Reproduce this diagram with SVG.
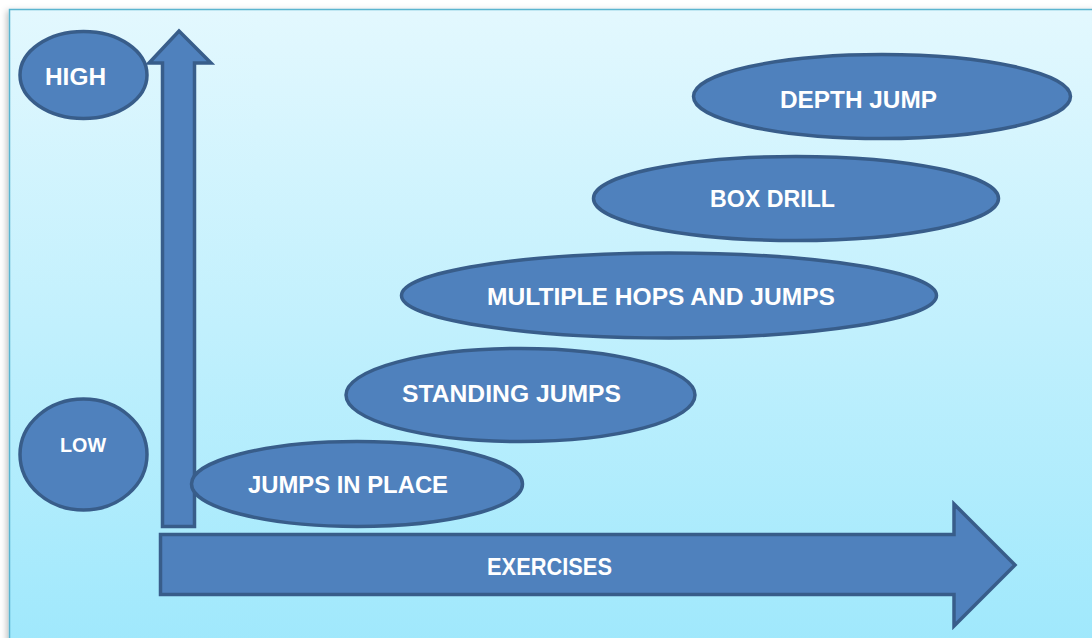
<svg xmlns="http://www.w3.org/2000/svg" width="1092" height="638" viewBox="0 0 1092 638">
  <defs>
    <linearGradient id="bg" x1="0" y1="0" x2="0" y2="1">
      <stop offset="0" stop-color="#e3f8fe"/>
      <stop offset="1" stop-color="#9fe8fc"/>
    </linearGradient>
    <filter id="sh" x="-5%" y="-5%" width="110%" height="110%">
      <feDropShadow dx="-2" dy="2" stdDeviation="3" flood-color="#000" flood-opacity="0.25"/>
    </filter>
  </defs>
  <style>
    .shape { fill: #4f81bd; stroke: #385d8a; stroke-width: 3.5; stroke-linejoin: miter; }
    .lbl { fill: #ffffff; font-family: "Liberation Sans", Arial, sans-serif; font-weight: bold; font-size: 24px; }
  </style>
  <rect x="0" y="0" width="1092" height="638" fill="#ffffff"/>
  <rect x="9.5" y="9.5" width="1092" height="640" fill="url(#bg)" stroke="#5ab4cf" stroke-width="1.5" filter="url(#sh)"/>

  <g id="connectors">
    <polygon id="axis-y" class="shape" points="179,31 211,63 194.5,63 194.5,526.5 162.5,526.5 162.5,63 149,63"/>
    <polygon id="axis-x" class="shape" points="160.5,534.5 954,534.5 954,504 1015,565 954,626 954,594.5 160.5,594.5"/>
  </g>
  <text class="lbl" x="487" y="575" textLength="125" lengthAdjust="spacingAndGlyphs">EXERCISES</text>

  <g id="high">
    <ellipse class="shape" cx="83.5" cy="75" rx="63.5" ry="43.5"/>
    <text class="lbl" x="45" y="85" textLength="61" lengthAdjust="spacingAndGlyphs">HIGH</text>
  </g>
  <g id="low">
    <ellipse class="shape" cx="83.5" cy="454.5" rx="63.5" ry="55.5"/>
    <text class="lbl" x="60" y="452" font-size="20" style="font-size:20px" textLength="46" lengthAdjust="spacingAndGlyphs">LOW</text>
  </g>
  <g id="depth-jump">
    <ellipse class="shape" cx="882" cy="96.5" rx="188.5" ry="42"/>
    <text class="lbl" x="780" y="108" textLength="157" lengthAdjust="spacingAndGlyphs">DEPTH JUMP</text>
  </g>
  <g id="box-drill">
    <ellipse class="shape" cx="796" cy="198.5" rx="202.5" ry="42"/>
    <text class="lbl" x="710" y="207" textLength="125" lengthAdjust="spacingAndGlyphs">BOX DRILL</text>
  </g>
  <g id="multiple-hops">
    <ellipse class="shape" cx="669" cy="295.5" rx="267.5" ry="42.5"/>
    <text class="lbl" x="487" y="305" textLength="348" lengthAdjust="spacingAndGlyphs">MULTIPLE HOPS AND JUMPS</text>
  </g>
  <g id="standing-jumps">
    <ellipse class="shape" cx="520.5" cy="395" rx="174.5" ry="46.5"/>
    <text class="lbl" x="402" y="402" textLength="219" lengthAdjust="spacingAndGlyphs">STANDING JUMPS</text>
  </g>
  <g id="jumps-in-place">
    <ellipse class="shape" cx="357" cy="484" rx="165.5" ry="42.5"/>
    <text class="lbl" x="248" y="493" textLength="200" lengthAdjust="spacingAndGlyphs">JUMPS IN PLACE</text>
  </g>
</svg>
